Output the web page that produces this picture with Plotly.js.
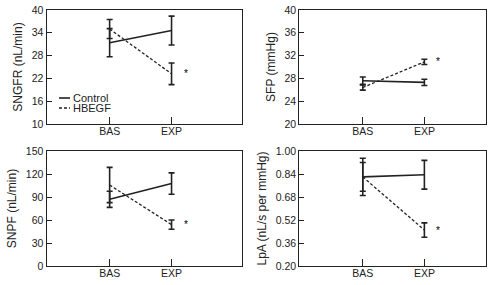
<!DOCTYPE html>
<html><head><meta charset="utf-8">
<script src="https://cdn.plot.ly/plotly-3.0.1.min.js"></script>
<style>html,body{margin:0;padding:0;background:#fff}#chart{width:491px;height:285px}</style>
</head><body><div id="chart"></div>
<script>
// Data
const periods = ['BAS', 'EXP'];
const seriesNames = ['Control', 'HBEGF'];

const sngfrControl = [31.4, 34.6];
const sngfrControlErr = [3.7, 3.8];
const sngfrHbegf = [35.0, 23.2];
const sngfrHbegfErr = [2.5, 2.85];

const sfpControl = [27.6, 27.3];
const sfpControlErr = [0.65, 0.55];
const sfpHbegf = [26.4, 30.9];
const sfpHbegfErr = [0.45, 0.45];

const snpfControl = [87, 107.5];
const snpfControlErr = [10.5, 14];
const snpfHbegf = [105.6, 54];
const snpfHbegfErr = [23, 6];

const lpaControl = [0.82, 0.835];
const lpaControlErr = [0.10, 0.10];
const lpaHbegf = [0.82, 0.45];
const lpaHbegfErr = [0.13, 0.05];

const sngfrTicks = [10, 16, 22, 28, 34, 40];
const sfpTicks = [20, 24, 28, 32, 36, 40];
const snpfTicks = [0, 30, 60, 90, 120, 150];
const lpaTicks = [0.20, 0.36, 0.52, 0.68, 0.84, 1.00];
const lpaTickText = ['0.20', '0.36', '0.52', '0.68', '0.84', '1.00'];

const ink = '#222';
const FONT = 'Liberation Sans, Arial, sans-serif';

function pair(xa, ya, ctl, ctlErr, hb, hbErr) {
  const common = {x: periods, xaxis: xa, yaxis: ya, mode: 'lines', showlegend: false, hoverinfo: 'skip'};
  return [
    Object.assign({}, common, {name: seriesNames[0], y: ctl,
      line: {color: ink, width: 1.6},
      error_y: {type: 'data', array: ctlErr, visible: true, color: ink, thickness: 1.6, width: 3}}),
    Object.assign({}, common, {name: seriesNames[1], y: hb,
      line: {color: ink, width: 1.3, dash: '3px,2px'},
      error_y: {type: 'data', array: hbErr, visible: true, color: ink, thickness: 1.6, width: 3}})
  ];
}

const data = [].concat(
  pair('x', 'y', sngfrControl, sngfrControlErr, sngfrHbegf, sngfrHbegfErr),
  pair('x2', 'y2', sfpControl, sfpControlErr, sfpHbegf, sfpHbegfErr),
  pair('x3', 'y3', snpfControl, snpfControlErr, snpfHbegf, snpfHbegfErr),
  pair('x4', 'y4', lpaControl, lpaControlErr, lpaHbegf, lpaHbegfErr)
);

const W = 491, H = 285;
const leftDom = [46.5 / W, 241.5 / W];
const rightDom = [299.3 / W, 486 / W];
const topDom = [(H - 124) / H, (H - 10) / H];
const botDom = [(H - 266) / H, (H - 151) / H];

function xax(dom, range, anchor) {
  return {domain: dom, anchor: anchor, type: 'category', categoryarray: periods, range: range,
    showline: true, mirror: true, linecolor: ink, linewidth: 1,
    ticks: 'inside', ticklen: 7, tickwidth: 1, tickcolor: ink,
    ticklabelstandoff: -3,
    showgrid: false, zeroline: false, fixedrange: true,
    tickfont: {family: FONT, size: 10.5, color: ink}};
}
function yax(dom, range, ticks, title, anchor, ticktext) {
  const a = {domain: dom, anchor: anchor, range: range, tickmode: 'array', tickvals: ticks,
    showline: true, mirror: true, linecolor: ink, linewidth: 1,
    ticks: 'inside', ticklen: 5, tickwidth: 1, tickcolor: ink,
    showgrid: false, zeroline: false, fixedrange: true,
    tickfont: {family: FONT, size: 10.5, color: ink},
    title: {text: title, font: {family: FONT, size: 12, color: ink}, standoff: 6}};
  if (ticktext) a.ticktext = ticktext;
  return a;
}

const layout = {
  width: W, height: H,
  margin: {l: 0, r: 0, t: 0, b: 0},
  paper_bgcolor: '#fff', plot_bgcolor: '#fff',
  showlegend: false,
  xaxis: xax(leftDom, [-1.02, 2.13], 'y'),
  yaxis: yax(topDom, [10, 40], sngfrTicks, 'SNGFR (nL/min)', 'x'),
  xaxis2: xax(rightDom, [-1.03, 2.0], 'y2'),
  yaxis2: yax(topDom, [20, 40], sfpTicks, 'SFP (mmHg)', 'x2'),
  xaxis3: xax(leftDom, [-1.02, 2.13], 'y3'),
  yaxis3: yax(botDom, [0, 150], snpfTicks, 'SNPF (nL/min)', 'x3'),
  xaxis4: xax(rightDom, [-1.03, 2.0], 'y4'),
  yaxis4: yax(botDom, [0.20, 1.00], lpaTicks, 'LpA (nL/s per mmHg)', 'x4', lpaTickText),
  shapes: [
    {type: 'line', xref: 'paper', yref: 'paper', x0: 59 / W, x1: 70 / W, y0: (H - 98) / H, y1: (H - 98) / H,
      line: {color: ink, width: 1.6}},
    {type: 'line', xref: 'paper', yref: 'paper', x0: 59 / W, x1: 70 / W, y0: (H - 108) / H, y1: (H - 108) / H,
      line: {color: ink, width: 1.3, dash: '3px,2px'}}
  ],
  annotations: [
    {xref: 'paper', yref: 'paper', x: 71 / W, y: (H - 98) / H, xanchor: 'left', yanchor: 'middle',
      text: seriesNames[0], showarrow: false, font: {family: FONT, size: 11, color: ink}},
    {xref: 'paper', yref: 'paper', x: 71 / W, y: (H - 108) / H, xanchor: 'left', yanchor: 'middle',
      text: seriesNames[1], showarrow: false, font: {family: FONT, size: 11, color: ink}},
    {xref: 'x', yref: 'y', x: periods[1], y: sngfrHbegf[1], xshift: 14, text: '*', showarrow: false, font: {family: FONT, size: 10, color: '#000'}},
    {xref: 'x2', yref: 'y2', x: periods[1], y: sfpHbegf[1], xshift: 14, text: '*', showarrow: false, font: {family: FONT, size: 10, color: '#000'}},
    {xref: 'x3', yref: 'y3', x: periods[1], y: snpfHbegf[1], xshift: 14, text: '*', showarrow: false, font: {family: FONT, size: 10, color: '#000'}},
    {xref: 'x4', yref: 'y4', x: periods[1], y: lpaHbegf[1], xshift: 14, text: '*', showarrow: false, font: {family: FONT, size: 10, color: '#000'}}
  ]
};

Plotly.newPlot('chart', data, layout, {staticPlot: true, displayModeBar: false});
</script></body></html>
